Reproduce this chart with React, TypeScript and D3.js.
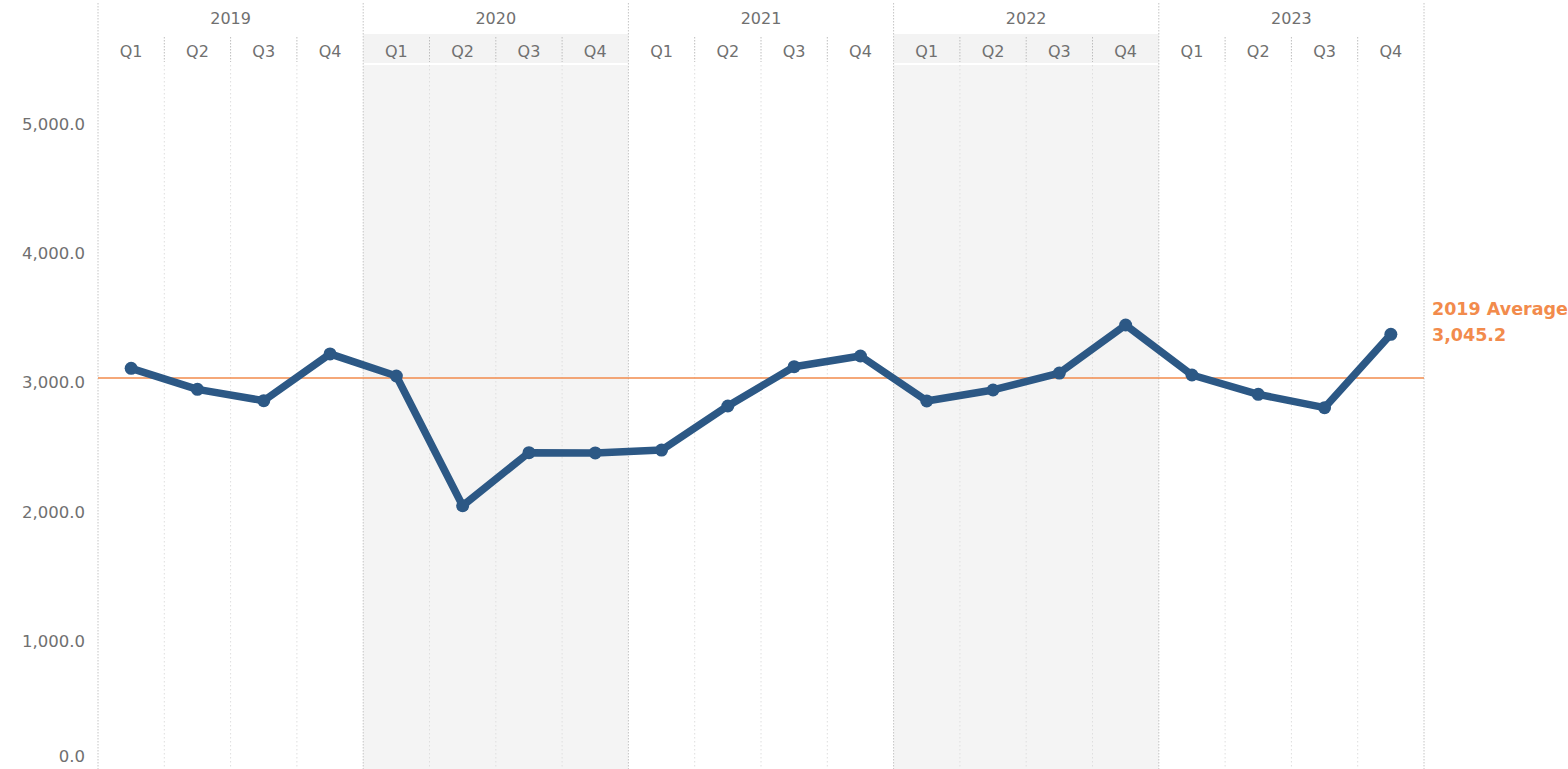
import React from "react";
import { scaleBand, scaleLinear, line, mean, format } from "d3";

const years = ["2019", "2020", "2021", "2022", "2023"];
const quarters = ["Q1", "Q2", "Q3", "Q4"];
const values = [
  3120.5, 2958, 2870, 3232.3,
  3061, 2057, 2468, 2466,
  2488, 2829, 3133, 3216,
  2868, 2953, 3084, 3456,
  3069, 2919, 2816, 3384,
];
const yTicks = [0, 1000, 2000, 3000, 4000, 5000];
const shadedYears = ["2020", "2022"];
const referenceYear = "2019";

const W = 1568;
const H = 769;
const FONT = "'DejaVu Sans', sans-serif";

const App = () => {
  const margin = { left: 98, right: 144, top: 65 };
  const plotRight = W - margin.right;

  const keys = years.flatMap((y) => quarters.map((q) => `${y}-${q}`));
  const data = keys.map((k, i) => ({ key: k, year: k.slice(0, 4), q: k.slice(5), value: values[i] }));

  const x = scaleBand().domain(keys).range([margin.left, plotRight]).padding(0);
  const xYear = scaleBand().domain(years).range([margin.left, plotRight]).padding(0);
  const y = scaleLinear().domain([0, 5000]).range([771.5, 125.5]);

  const avg = mean(data.filter((d) => d.year === referenceYear), (d) => d.value) || 0;
  const fmt = format(",.1f");

  const path = line<{ key: string; value: number }>()
    .x((d) => (x(d.key) || 0) + x.bandwidth() / 2)
    .y((d) => y(d.value))(data);

  const lineColor = "#2c5885";
  const orange = "#f28b4c";
  const labelColor = "#707070";

  return (
    <svg
      width={W}
      height={H}
      style={{ position: "absolute", left: 0, top: 0, display: "block", background: "#fff" }}
      fontFamily={FONT}
    >
      {/* shaded years */}
      {shadedYears.map((yr) => (
        <g key={yr}>
          <rect x={xYear(yr)} y={34} width={xYear.bandwidth()} height={29} fill="#f3f3f3" />
          <rect x={xYear(yr)} y={margin.top} width={xYear.bandwidth()} height={H - margin.top} fill="#f4f4f4" />
        </g>
      ))}

      {/* quarter separators */}
      {keys.map((k, i) => {
        if (i % 4 === 0) return null;
        const xx = x(k) || 0;
        return (
          <g key={k}>
            <line x1={xx} x2={xx} y1={37} y2={62} stroke="#bdbdbd" strokeDasharray="1.5,1.5" />
            <line x1={xx} x2={xx} y1={margin.top} y2={H} stroke="#dedede" strokeDasharray="1.5,2.5" />
          </g>
        );
      })}

      {/* year separators */}
      {years.map((yr) => {
        const xx = xYear(yr) || 0;
        return (
          <line key={yr} x1={xx} x2={xx} y1={3} y2={H} stroke="#c4c4c4" strokeDasharray="1.5,1.5" />
        );
      })}
      <line x1={plotRight} x2={plotRight} y1={3} y2={H} stroke="#c4c4c4" strokeDasharray="1.5,1.5" />

      {/* year labels */}
      {years.map((yr) => (
        <text
          key={yr}
          x={(xYear(yr) || 0) + xYear.bandwidth() / 2}
          y={19}
          textAnchor="middle"
          dominantBaseline="middle"
          fontSize={16}
          fill={labelColor}
        >
          {yr}
        </text>
      ))}

      {/* quarter labels */}
      {data.map((d) => (
        <text
          key={d.key}
          x={(x(d.key) || 0) + x.bandwidth() / 2}
          y={52}
          textAnchor="middle"
          dominantBaseline="middle"
          fontSize={16}
          fill={labelColor}
        >
          {d.q}
        </text>
      ))}

      {/* y axis labels */}
      {yTicks.map((t) => (
        <text
          key={t}
          x={85}
          y={Math.min(y(t), 757)}
          textAnchor="end"
          dominantBaseline="middle"
          fontSize={16.5}
          fill={labelColor}
        >
          {fmt(t)}
        </text>
      ))}

      {/* reference line */}
      <line x1={margin.left} x2={plotRight} y1={y(avg)} y2={y(avg)} stroke={orange} strokeWidth={1.5} />
      <text x={plotRight + 8} y={y(avg) - 68} fontSize={17.5} fontWeight="bold" fill={orange} dominantBaseline="middle">
        {referenceYear} Average
      </text>
      <text x={plotRight + 8} y={y(avg) - 42} fontSize={17.5} fontWeight="bold" fill={orange} dominantBaseline="middle">
        {fmt(avg)}
      </text>

      {/* series */}
      <path d={path || ""} fill="none" stroke={lineColor} strokeWidth={7.5} strokeLinejoin="round" />
      {data.map((d) => (
        <circle
          key={d.key}
          cx={(x(d.key) || 0) + x.bandwidth() / 2}
          cy={y(d.value)}
          r={6.5}
          fill={lineColor}
        />
      ))}
    </svg>
  );
};

export default App;
